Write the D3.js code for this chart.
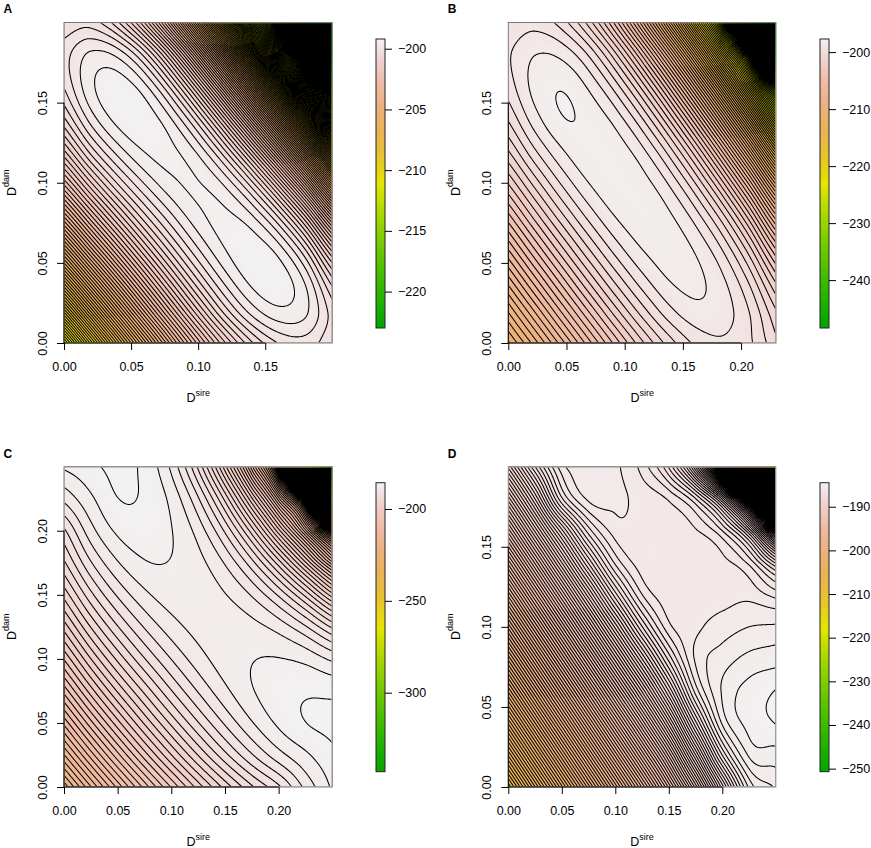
<!DOCTYPE html>
<html><head><meta charset="utf-8">
<script src="https://cdn.jsdelivr.net/npm/d3@7"></script>
<style>body{margin:0;background:#fff}svg{display:block}text{font-family:"Liberation Sans",Arial,sans-serif}</style>
</head><body>
<svg id="chart" width="871" height="848"></svg>
<script>
// ---------------- data ----------------
const panelLabels = ["A", "B", "C", "D"];
const xMax = [0.2, 0.23, 0.25, 0.25];           // D_sire extent of each panel
const yMax = [0.2, 0.2, 0.25, 0.2];             // D_dam extent of each panel
const xTicks = [[0, 0.05, 0.1, 0.15], [0, 0.05, 0.1, 0.15, 0.2], [0, 0.05, 0.1, 0.15, 0.2], [0, 0.05, 0.1, 0.15, 0.2]];
const yTicks = [[0, 0.05, 0.1, 0.15], [0, 0.05, 0.1, 0.15], [0, 0.05, 0.1, 0.15, 0.2], [0, 0.05, 0.1, 0.15]];
const zRange = [[-223.0, -199.2], [-248.4, -197.7], [-343, -185.7], [-250.7, -184.5]]; // colour-bar limits
const barTicks = [[-200, -205, -210, -215, -220], [-200, -210, -220, -230, -240], [-200, -250, -300], [-190, -200, -210, -220, -230, -240, -250]];
const contourStep = [0.2, 0.5, 1, 0.25];

// log-likelihood surfaces on an 11 x 11 grid; rows from D_dam = max (top) down to 0,
// columns from D_sire = 0 to max
const zA = [
 [-200.16,-200.10,-200.56,-201.60,-203.30,-205.73,-208.92,-212.74,-216.57,-222.50,-228.00],
 [-199.89,-199.56,-199.66,-200.28,-201.48,-203.30,-205.79,-208.99,-212.80,-216.61,-222.50],
 [-199.99,-199.45,-199.28,-199.54,-200.28,-201.54,-203.37,-205.85,-209.03,-212.80,-216.57],
 [-200.43,-199.71,-199.33,-199.28,-199.60,-200.35,-201.60,-203.41,-205.85,-208.99,-212.74],
 [-201.22,-200.31,-199.71,-199.39,-199.36,-199.66,-200.39,-201.60,-203.37,-205.79,-208.92],
 [-202.32,-201.22,-200.37,-199.78,-199.45,-199.39,-199.66,-200.35,-201.54,-203.30,-205.73],
 [-203.70,-202.38,-201.29,-200.43,-199.82,-199.45,-199.36,-199.60,-200.28,-201.48,-203.30],
 [-205.32,-203.77,-202.44,-201.32,-200.43,-199.78,-199.39,-199.28,-199.54,-200.28,-201.60],
 [-207.13,-205.38,-203.81,-202.44,-201.29,-200.37,-199.71,-199.33,-199.28,-199.66,-200.56],
 [-209.13,-207.17,-205.38,-203.77,-202.38,-201.22,-200.31,-199.71,-199.45,-199.56,-200.10],
 [-211.30,-209.13,-207.13,-205.32,-203.70,-202.32,-201.22,-200.43,-199.99,-199.89,-200.16]
];
const zB = [
 [-199.40,-199.20,-199.75,-201.21,-203.70,-207.33,-212.15,-218.28,-225.87,-240.00,-258.00],
 [-199.06,-198.51,-198.64,-199.56,-201.37,-204.11,-207.91,-212.90,-219.23,-227.03,-242.00],
 [-199.26,-198.33,-198.04,-198.58,-199.74,-201.69,-204.57,-208.53,-213.70,-220.22,-228.24],
 [-199.93,-198.70,-198.03,-198.13,-198.71,-199.97,-202.05,-205.07,-209.19,-214.55,-221.27],
 [-201.01,-199.55,-198.56,-198.09,-198.20,-198.87,-200.24,-202.44,-205.62,-209.90,-215.44],
 [-202.44,-200.76,-199.41,-198.50,-198.11,-198.30,-199.07,-200.55,-202.88,-206.21,-210.71],
 [-204.09,-202.21,-200.58,-199.30,-198.46,-198.16,-198.43,-199.30,-200.89,-203.40,-206.99],
 [-205.85,-203.85,-202.02,-200.44,-199.22,-198.46,-198.25,-198.60,-199.60,-201.41,-204.18],
 [-207.65,-205.61,-203.65,-201.85,-200.32,-199.17,-198.48,-198.39,-198.92,-200.15,-202.20],
 [-209.43,-207.42,-205.40,-203.47,-201.71,-200.24,-199.17,-198.65,-198.77,-199.51,-200.96],
 [-211.12,-209.22,-207.22,-205.22,-203.31,-201.61,-200.27,-199.39,-199.08,-199.41,-200.36]
];
const zC = [
 [-186.82,-186.23,-185.75,-186.26,-188.23,-192.20,-198.58,-207.66,-222.30,-262.67,-330.26],
 [-188.73,-187.19,-186.02,-186.15,-187.30,-189.88,-194.29,-200.81,-209.64,-224.61,-262.67],
 [-191.20,-188.39,-186.81,-186.41,-186.96,-188.41,-191.16,-195.49,-201.61,-209.64,-222.30],
 [-193.17,-190.10,-188.09,-187.09,-187.05,-187.67,-189.10,-191.63,-195.49,-200.81,-207.66],
 [-195.64,-192.30,-189.85,-188.26,-187.48,-187.47,-187.95,-189.10,-191.16,-194.29,-198.58],
 [-198.57,-194.95,-192.07,-189.91,-188.45,-187.65,-187.47,-187.67,-188.41,-189.88,-192.20],
 [-201.92,-198.02,-194.74,-192.06,-189.97,-188.45,-187.48,-187.05,-186.96,-187.30,-188.23],
 [-205.64,-201.49,-197.85,-194.74,-192.06,-189.91,-188.26,-187.09,-186.41,-186.15,-186.26],
 [-209.71,-205.34,-201.39,-197.85,-194.74,-192.07,-189.85,-188.09,-186.81,-186.02,-185.75],
 [-214.08,-209.55,-205.34,-201.49,-198.02,-194.95,-192.30,-190.10,-188.39,-187.19,-186.23],
 [-218.72,-214.08,-209.71,-205.64,-201.92,-198.57,-195.64,-193.17,-191.20,-188.73,-186.82]
];
const zD = [
 [-189.17,-187.25,-185.85,-185.58,-185.70,-186.10,-187.03,-189.28,-193.97,-202.58,-216.93],
 [-190.88,-188.74,-186.55,-185.70,-185.70,-185.83,-186.04,-186.74,-188.59,-192.60,-200.15],
 [-192.64,-190.44,-188.33,-186.63,-185.88,-185.84,-185.85,-185.97,-186.50,-188.02,-191.42],
 [-194.40,-192.20,-190.01,-187.97,-186.45,-185.87,-185.85,-185.85,-185.91,-186.32,-187.54],
 [-196.16,-193.96,-191.76,-189.59,-187.61,-186.26,-185.85,-185.85,-185.85,-185.83,-186.10],
 [-197.92,-195.72,-193.52,-191.32,-189.17,-187.27,-186.08,-185.81,-185.63,-185.50,-185.46],
 [-199.68,-197.48,-195.28,-193.08,-190.88,-188.76,-186.92,-185.71,-185.38,-185.18,-185.11],
 [-201.44,-199.24,-197.04,-194.84,-192.64,-190.45,-188.24,-186.15,-185.22,-184.91,-184.74],
 [-203.20,-201.00,-198.80,-196.60,-194.40,-192.20,-189.89,-187.33,-185.46,-184.91,-184.74],
 [-204.96,-202.76,-200.56,-198.36,-196.16,-193.96,-191.69,-189.01,-186.49,-185.21,-185.11],
 [-206.72,-204.52,-202.32,-200.12,-197.92,-195.72,-193.44,-190.91,-188.13,-185.95,-185.46]
];
const zGrids = [zA, zB, zC, zD];

// ---------------- layout ----------------
const boxes = [{x0:64,x1:332.3,y0:22.5,y1:343},{x0:508.3,x1:776,y0:22.5,y1:343},{x0:64,x1:332.3,y0:466.7,y1:787},{x0:508.3,x1:775.8,y0:466.7,y1:787}];
const bars = [{x:376,y0:39,y1:328},{x:820,y0:39,y1:328},{x:376,y0:482.7,y1:771.7},{x:820,y0:482.7,y1:771.7}];

// R terrain.colors ramp (green -> yellow -> tan -> near white)
function terrain(t){t=Math.max(0,Math.min(1,t));let h,s,v;
 if(t<0.5){const u=t/0.5;h=1/3-u/6;s=1;v=0.65+0.25*u;}else{const u=(t-0.5)/0.5;h=(1/6)*(1-u);s=1-u;v=0.9+0.05*u;}
 const i=Math.floor(h*6),f=h*6-i,p=v*(1-s),q=v*(1-f*s),tt=v*(1-(1-f)*s);let r,g,b;
 switch(i){case 0:r=v;g=tt;b=p;break;case 1:r=q;g=v;b=p;break;default:r=p;g=v;b=tt;}
 return d3.rgb(r*255,g*255,b*255);}
// smooth (Catmull-Rom) rendering of the grid
function cr(p0,p1,p2,p3,t){return 0.5*(2*p1+(-p0+p2)*t+(2*p0-5*p1+4*p2-p3)*t*t+(-p0+3*p1-3*p2+p3)*t*t*t);}
function makeSampler(rowsTopFirst){
 const g=rowsTopFirst.slice().reverse();const ny=g.length,nx=g[0].length;
 const ext=(arr,i)=>i<0?2*arr[0]-arr[1]:(i>arr.length-1?2*arr[arr.length-1]-arr[arr.length-2]:arr[i]);
 const rows=[];for(let j=0;j<ny;j++){const row=[];for(let i=-1;i<=nx;i++)row.push(ext(g[j],i));rows.push(row);}
 const P=[];for(let j=-1;j<=ny;j++){P.push(rows[0].map((_,i)=>ext(rows.map(r=>r[i]),j)));}
 return (fx,fy)=>{let i=Math.floor(fx),j=Math.floor(fy);i=Math.min(Math.max(i,0),nx-2);j=Math.min(Math.max(j,0),ny-2);
  const tx=fx-i,ty=fy-j;const r=[];for(let m=-1;m<=2;m++){const R=P[j+m+1];r.push(cr(R[i],R[i+1],R[i+2],R[i+3],tx));}
  return cr(r[0],r[1],r[2],r[3],ty);};}

const svg=d3.select("#chart");
const defs=svg.append("defs");
const FONT="Liberation Sans, Arial, sans-serif";

zGrids.forEach((grid,k)=>{
 const b=boxes[k];
 const x=d3.scaleLinear().domain([0,xMax[k]]).range([b.x0,b.x1]);
 const y=d3.scaleLinear().domain([0,yMax[k]]).range([b.y1,b.y0]);
 const color=d3.scaleSequential(t=>terrain(t)).domain(zRange[k]);
 const nx=Math.round(b.x1-b.x0),ny=Math.round(b.y1-b.y0);
 const samp=makeSampler(grid);
 const gx=grid[0].length-1,gy=grid.length-1;
 const vals=new Float64Array(nx*ny);
 for(let j=0;j<ny;j++){const yd=y.invert(b.y0+(j+0.5)*(b.y1-b.y0)/ny);const fy=yd/yMax[k]*gy;
  for(let i=0;i<nx;i++){const xd=x.invert(b.x0+(i+0.5)*(b.x1-b.x0)/nx);vals[j*nx+i]=samp(xd/xMax[k]*gx,fy);}}
 // image
 const cv=document.createElement("canvas");cv.width=nx;cv.height=ny;const ctx=cv.getContext("2d");
 const img=ctx.createImageData(nx,ny);
 for(let p=0;p<nx*ny;p++){const c=d3.rgb(color(vals[p]));img.data[4*p]=c.r;img.data[4*p+1]=c.g;img.data[4*p+2]=c.b;img.data[4*p+3]=255;}
 ctx.putImageData(img,0,0);
 const gP=svg.append("g");
 gP.append("image").attr("x",b.x0).attr("y",b.y0).attr("width",b.x1-b.x0).attr("height",b.y1-b.y0)
  .attr("preserveAspectRatio","none").attr("href",cv.toDataURL());
 // contour lines
 const step=contourStep[k];
 const lo=d3.min(vals),hi=d3.max(vals);
 const levels=d3.range(Math.ceil(lo/step),Math.floor(hi/step)+1).map(n=>+(n*step).toFixed(4));
 const sx=(b.x1-b.x0)/nx,sy=(b.y1-b.y0)/ny;
 const path=d3.geoPath(d3.geoTransform({point(px,py){this.stream.point(b.x0+px*sx,b.y0+py*sy);}}));
 const gen=d3.contours().size([nx,ny]);
 let dstr="";levels.forEach(L=>{dstr+=path(gen.contour(vals,L))||"";});
 defs.append("clipPath").attr("id","clip"+k).append("rect").attr("x",b.x0+0.8).attr("y",b.y0+0.8).attr("width",b.x1-b.x0-1.6).attr("height",b.y1-b.y0-1.6);
 gP.append("path").attr("d",dstr).attr("fill","none").attr("stroke","#000").attr("stroke-width",1.05).attr("clip-path",`url(#clip${k})`);
 gP.append("rect").attr("x",b.x0).attr("y",b.y0).attr("width",b.x1-b.x0).attr("height",b.y1-b.y0).attr("fill","none").attr("stroke","#7a7a7a").attr("stroke-width",1);
 // axes
 const ax=gP.append("g").attr("transform",`translate(0,${b.y1})`).call(d3.axisBottom(x).tickValues(xTicks[k]).tickFormat(d3.format(".2f")).tickSize(7).tickSizeOuter(0).tickPadding(12));
 ax.select(".domain").attr("d",`M${x(xTicks[k][0])},0H${x(xTicks[k][xTicks[k].length-1])}`);
 ax.selectAll("text").attr("font-size",12.5).attr("font-family",FONT).attr("fill","#000");
 const ay=gP.append("g").attr("transform",`translate(${b.x0},0)`).call(d3.axisLeft(y).tickValues(yTicks[k]).tickFormat(d3.format(".2f")).tickSize(7).tickSizeOuter(0));
 ay.select(".domain").attr("d",`M0,${y(yTicks[k][0])}V${y(yTicks[k][yTicks[k].length-1])}`);
 ay.selectAll("text").attr("x",0).attr("y",0).attr("dy",0).attr("text-anchor","middle").attr("transform","translate(-17.5,0) rotate(-90)")
  .attr("font-size",12.5).attr("font-family",FONT).attr("fill","#000");
 // titles
 const cxm=(b.x0+b.x1)/2,cym=(b.y0+b.y1)/2;
 const xt=gP.append("text").attr("x",cxm).attr("y",b.y1+59).attr("text-anchor","middle").attr("font-size",12.5);
 xt.append("tspan").text("D");xt.append("tspan").attr("dy",-6.5).attr("font-size",9).text("sire");
 const yt=gP.append("text").attr("transform",`translate(${b.x0-48.5},${cym}) rotate(-90)`).attr("text-anchor","middle").attr("font-size",12.5);
 yt.append("tspan").text("D");yt.append("tspan").attr("dy",-6.5).attr("font-size",9).text("dam");
 gP.append("text").attr("x",b.x0-60.5).attr("y",b.y0-9.2).attr("font-size",12).attr("font-weight","bold").text(panelLabels[k]);
 // colour bar
 const bar=bars[k];
 const cs=d3.scaleLinear().domain(zRange[k]).range([bar.y1,bar.y0]);
 const gid="grad"+k;const gr=defs.append("linearGradient").attr("id",gid).attr("x1",0).attr("y1",1).attr("x2",0).attr("y2",0);
 d3.range(0,1.0001,0.02).forEach(t=>gr.append("stop").attr("offset",t).attr("stop-color",terrain(t).formatHex()));
 gP.append("rect").attr("x",bar.x).attr("y",bar.y0).attr("width",9).attr("height",bar.y1-bar.y0).attr("fill",`url(#${gid})`).attr("stroke","#222").attr("stroke-width",1);
 const ab=gP.append("g").attr("transform",`translate(${bar.x+9},0)`).call(d3.axisRight(cs).tickValues(barTicks[k]).tickFormat(d3.format("d")).tickSize(7).tickPadding(6));
 ab.select(".domain").remove();
 ab.selectAll("text").attr("font-size",12.5).attr("font-family",FONT).attr("fill","#000");
});
</script>
</body></html>
